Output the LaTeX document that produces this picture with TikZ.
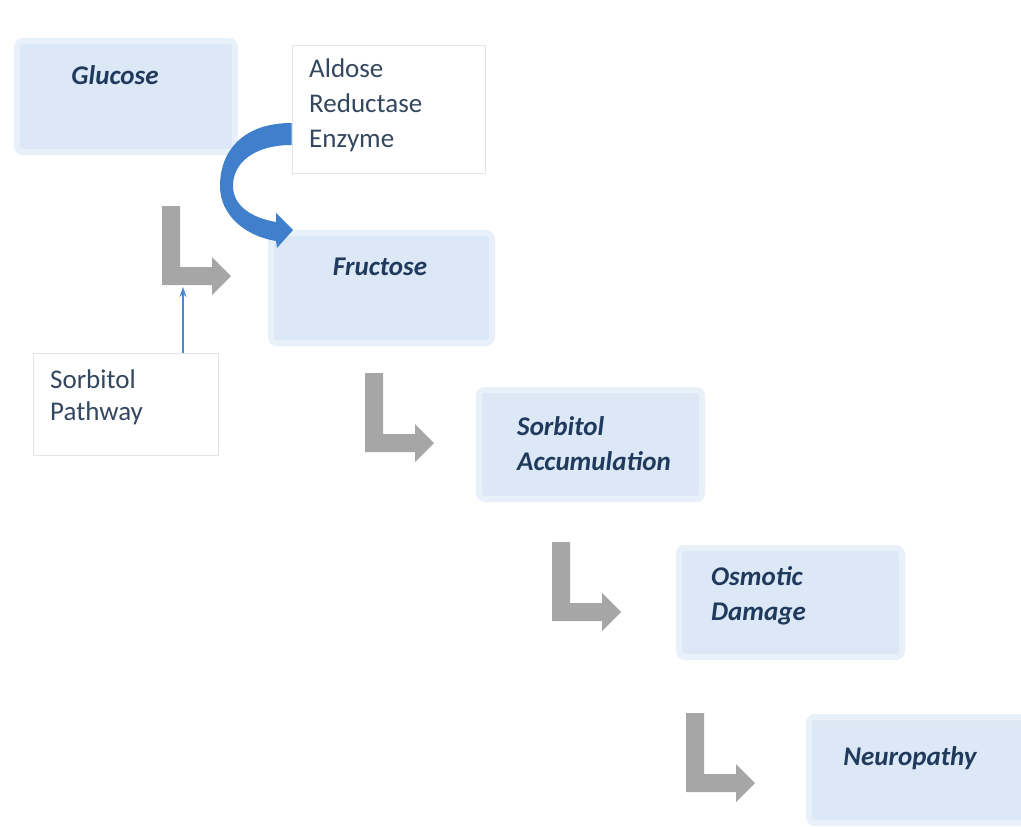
\documentclass[tikz,border=0pt]{standalone}
\usepackage{fontspec}
\setmainfont{Carlito}
\usetikzlibrary{arrows.meta,calc}
\definecolor{boxblue}{HTML}{DCE8F5}
\definecolor{halo}{HTML}{E8F0F9}
\definecolor{navy}{HTML}{1F3A5C}
\definecolor{txt}{HTML}{33475F}
\definecolor{lgray}{HTML}{A6A6A6}
\definecolor{arrowblue}{HTML}{3F7FCB}
\definecolor{thinblue}{HTML}{4A8AD4}
\definecolor{wborder}{HTML}{E4E4E4}
\begin{document}
\begin{tikzpicture}[x=1pt,y=-1pt,
 bluebox/.style={fill=boxblue, rounded corners=6pt, draw=halo, line width=6pt, inner sep=0pt},
 whitebox/.style={fill=white, draw=wborder, line width=0.8pt, inner sep=0pt},
 lbl/.style={font=\fontsize{27}{35}\selectfont\bfseries\itshape, text=navy, inner sep=0pt, align=left},
 plain/.style={font=\fontsize{27}{35}\selectfont, text=txt, inner sep=0pt, align=left},
 larrow/.pic={\fill[lgray] (0,0) -- (18,0) -- (18,61) -- (50,61) -- (50,51) -- (69,70) -- (50,89) -- (50,79) -- (0,79) -- cycle;},
 thinarrow/.style={draw=thinblue, line width=1.2pt, -{Stealth[length=10pt,width=7pt]}}]
\fill[white] (0,0) rectangle (1021,827);
\clip (0,0) rectangle (1021,827);
\useasboundingbox (0,0) rectangle (1021,827);

% blue boxes
\node[bluebox, minimum width=218pt, minimum height=111pt] (glucose) at (126,96.5) {};
\node[bluebox, minimum width=221pt, minimum height=110pt] (fructose) at (381.5,288) {};
\node[bluebox, minimum width=223pt, minimum height=109pt] (sorbacc) at (590.5,444.5) {};
\node[bluebox, minimum width=223pt, minimum height=109pt] (osmotic) at (790.5,602.5) {};
\node[bluebox, minimum width=224pt, minimum height=106pt] (neuro) at (921,770) {};

% white boxes
\node[whitebox, minimum width=193pt, minimum height=128pt] (aldose) at (388.5,109) {};
\node[whitebox, minimum width=185pt, minimum height=102pt] (sp) at (125.5,404) {};

% labels
\node[lbl] (tglucose) at (115,75) {Glucose};
\node[lbl] (tfructose) at (380,267) {Fructose};
\node[lbl, anchor=west] (tsorbacc) at (517,443.5) {Sorbitol\\Accumulation};
\node[lbl, anchor=west] (tosmotic) at (711,596) {Osmotic\\Damage};
\node[lbl] (tneuro) at (910,758) {Neuropathy};
\node[plain, anchor=west] (taldose) at (309,105) {Aldose\\Reductase\\Enzyme};
\node[plain, anchor=west, font=\fontsize{27}{32}\selectfont] (tsp) at (50,397) {Sorbitol\\Pathway};

% L-shaped grey arrows
\pic at (162,206) {larrow};
\pic at (365,373) {larrow};
\pic at (552,542) {larrow};
\pic at (686,713) {larrow};
\coordinate (l1foot) at (183,287);

% thin blue arrow
\draw[thinarrow] (sp.north -| l1foot) -- (l1foot);

% curved blue arrow
\fill[arrowblue] (aldose.west |- 0,123) .. controls (242,123) and (220,152) .. (220,186)
  .. controls (220,215) and (245,236) .. (276,241) -- (277,248) -- (293,230) -- (276,213) -- (276,222)
  .. controls (252,218) and (233,206) .. (233,186)
  .. controls (233,162) and (255,145) .. (aldose.west |- 0,145) -- cycle;
\end{tikzpicture}
\end{document}
